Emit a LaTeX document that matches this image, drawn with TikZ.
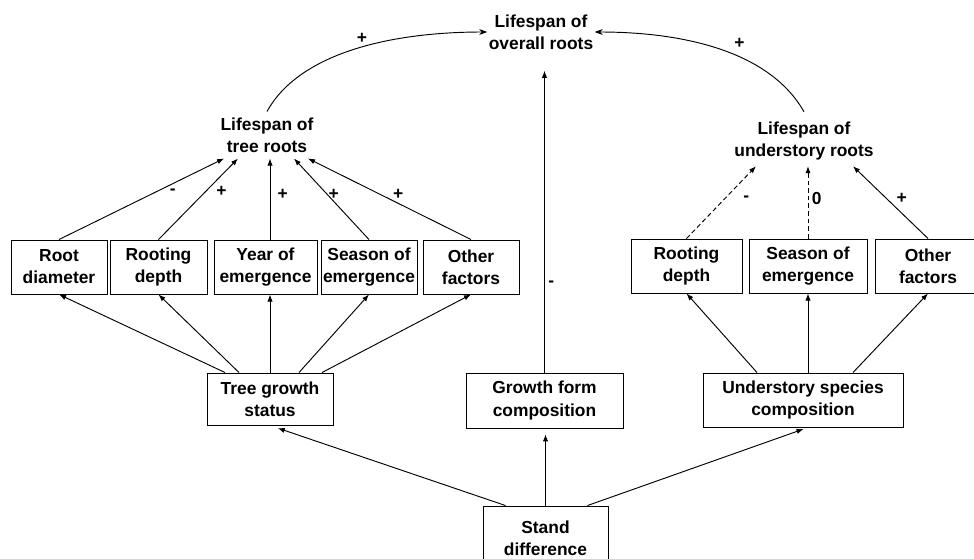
\documentclass[tikz,border=0pt]{standalone}
\usepackage{fontspec}
\setmainfont{Liberation Sans}
\usepackage{tikz}
\usetikzlibrary{arrows,arrows.meta,calc}

\begin{document}
\begin{tikzpicture}[
x=0.03cm, y=-0.03cm,
font=\fontsize{14.85}{18.8}\selectfont\bfseries,
box/.style={draw,line width=0.8pt,align=center,inner sep=0pt,minimum width=#1*0.03cm,minimum height=54*0.03cm},
lbl/.style={align=center,inner xsep=1pt,inner ysep=5pt},
arrowlabel/.style={inner sep=1pt},
arrow/.style={-{Latex[length=6pt,width=4.5pt]},line width=0.8pt},
curvearrow/.style={-{Stealth[length=7pt,width=5pt]},line width=0.8pt},
dasharrow/.style={arrow,dash pattern=on 4pt off 2.5pt} ]

\useasboundingbox (0,0) rectangle (974,559);

\node[lbl] (ovr) at (541,32) {Lifespan of\\overall roots};

\node[lbl] (treeL) at (267,135) {Lifespan of\\tree roots};

\node[lbl] (undL) at (804,141) {Lifespan of\\understory roots};

\node[box=96] (rdia) at (59,267) {Root\\diameter};

\node[box=97] (tdep) at (158.5,267) {Rooting\\depth};

\node[box=103] (tyr) at (265.5,267) {Year of\\emergence};

\node[box=96] (tsea) at (369,267) {Season of\\emergence};

\node[box=96] (toth) at (471,267) {Other\\factors};

\node[box=111] (udep) at (686.5,266) {Rooting\\depth};

\node[box=118] (usea) at (808,266) {Season of\\emergence};

\node[box=106] (uoth) at (928,266) {Other\\factors};

\node[box=126,minimum height=52*0.03cm] (tgs) at (270,399) {Tree growth\\status};

\node[box=157,minimum height=55*0.03cm] (gfc) at (544.5,400.5) {Growth form\\composition};

\node[box=200] (usc) at (803,400) {Understory species\\composition};

\node[box=125,minimum height=64*0.03cm] (std) at (545.5,538) {Stand\\difference};

\draw[curvearrow] (treeL.north) .. controls +(32,-58) and +(-98,0) .. node[pos=.54, above=1.5pt, arrowlabel] {+} (ovr.west);

\draw[curvearrow] ($(undL.north)+(0,-4)$) .. controls +(-34,-60) and +(90,0) .. node[pos=.41, above=6pt, arrowlabel] {+} (ovr.east);

\draw[arrow, shorten >=13pt] (gfc.north) -- node[pos=.28, right=2pt, arrowlabel] {-} (gfc.north |- ovr.south);

\draw[arrow] (rdia.north) -- node[pos=.69, below=3pt, arrowlabel] {-} ($(treeL.south)+(-43,0)$);

\draw[arrow] (tdep.north) -- node[pos=.59, right=8pt, arrowlabel] {+} ($(treeL.south)+(-29,0)$);

\draw[arrow] (tyr.north -| tgs.north) -- node[pos=.56, right=5pt, arrowlabel] {+} (tgs.north |- treeL.south);

\draw[arrow] (tsea.north) -- node[pos=.56, right, arrowlabel] {+} ($(treeL.south)+(27,0)$);

\draw[arrow] (toth.north) -- node[pos=.56, right=10pt, arrowlabel] {+} ($(treeL.south)+(41,0)$);

\draw[dasharrow] (udep.north) -- node[pos=.55, right=14.5pt, arrowlabel] {-} ($(undL.south)+(-48,0)$);

\draw[dasharrow] (usea.north) -- node[pos=.55, right=2pt, arrowlabel] {0} (usea.north |- undL.south);

\draw[arrow] (uoth.north) -- node[pos=.55, right=7pt, arrowlabel] {+} ($(undL.south)+(49,0)$);

\draw[arrow] ($(tgs.north)+(-45,0)$) -- (rdia.south);

\draw[arrow] ($(tgs.north)+(-31,0)$) -- (tdep.south);

\draw[arrow] (tgs.north) -- (tgs.north |- tyr.south);

\draw[arrow] ($(tgs.north)+(29,0)$) -- (tsea.south);

\draw[arrow] ($(tgs.north)+(52,0)$) -- (toth.south);

\draw[arrow] ($(usc.north)+(-46,0)$) -- (udep.south);

\draw[arrow] ($(usc.north)+(5,0)$) -- (usea.south);

\draw[arrow] ($(usc.north)+(50,0)$) -- (uoth.south);

\draw[arrow, shorten >=7pt] ($(std.north)+(-40,0)$) -- (tgs.south);

\draw[arrow, shorten >=5pt] (std.north) -- (std.north |- gfc.south);

\draw[arrow, shorten >=4pt] ($(std.north)+(42,0)$) -- ($(usc.south)+(5,0)$);

\end{tikzpicture}
\end{document}
